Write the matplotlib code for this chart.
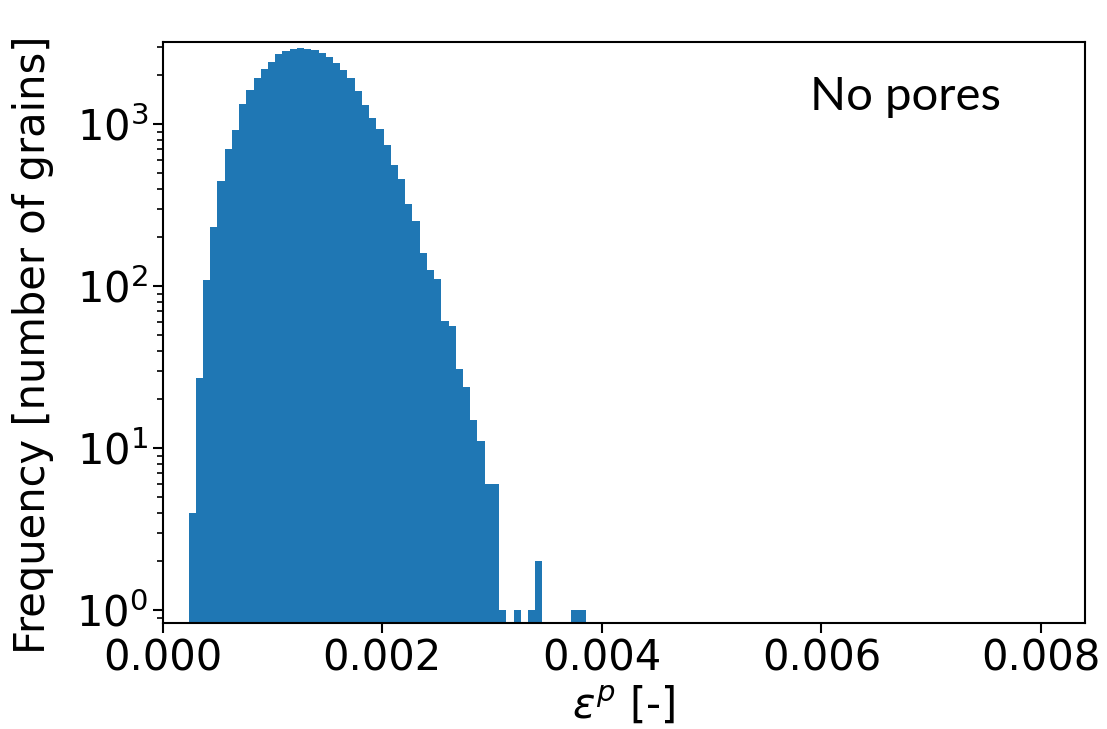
import numpy as np
import matplotlib
matplotlib.use('Agg')
import matplotlib.pyplot as plt

# histogram of plastic strain per grain, no pores case
binStart = 0.000235
binStop = 0.003854
counts = [4, 27, 109, 232, 445, 706, 925, 1339, 1633, 1937,
          2188, 2431, 2698, 2826, 2897, 2966, 2897, 2870, 2735, 2611,
          2372, 2158, 1937, 1610, 1320, 1084, 938, 747, 557, 461,
          323, 252, 161, 125, 111, 61, 57, 31, 24, 15,
          11, 6, 6, 1, 0, 1, 0, 1, 2, 0,
          0, 0, 0, 1, 1]
xTicks = [0.000, 0.002, 0.004, 0.006, 0.008]

edges = np.linspace(binStart, binStop, len(counts) + 1)

fig = plt.figure(figsize=(11.07, 7.29), dpi=100)
ax = fig.add_axes([0.147, 0.145, 0.833, 0.797])

ax.hist(edges[:-1], bins=edges, weights=counts, log=True, color='#1f77b4')

ax.set_xlim(0, 0.0084)
ax.set_ylim(0.83, 3200)
ax.set_xticks(xTicks)
ax.set_xticklabels([f'{t:.3f}' for t in xTicks])
ax.tick_params(axis='both', which='major', labelsize=30, length=7, width=1.5)
ax.tick_params(axis='x', which='major', pad=3)
ax.tick_params(axis='y', which='minor', length=4, width=1.2)
for spine in ax.spines.values():
    spine.set_linewidth(1.5)

ax.set_xlabel(r'$\varepsilon^p$ [-]', fontsize=30, labelpad=4)
ax.set_ylabel('Frequency [number of grains]', fontsize=30)
ax.yaxis.set_label_coords(-0.118, 0.48)

ax.text(0.702, 0.883, 'No pores', transform=ax.transAxes, fontsize=34,
        family=['Lato', 'DejaVu Sans'], ha='left', va='baseline')

fig.savefig('out.png', dpi=100)
